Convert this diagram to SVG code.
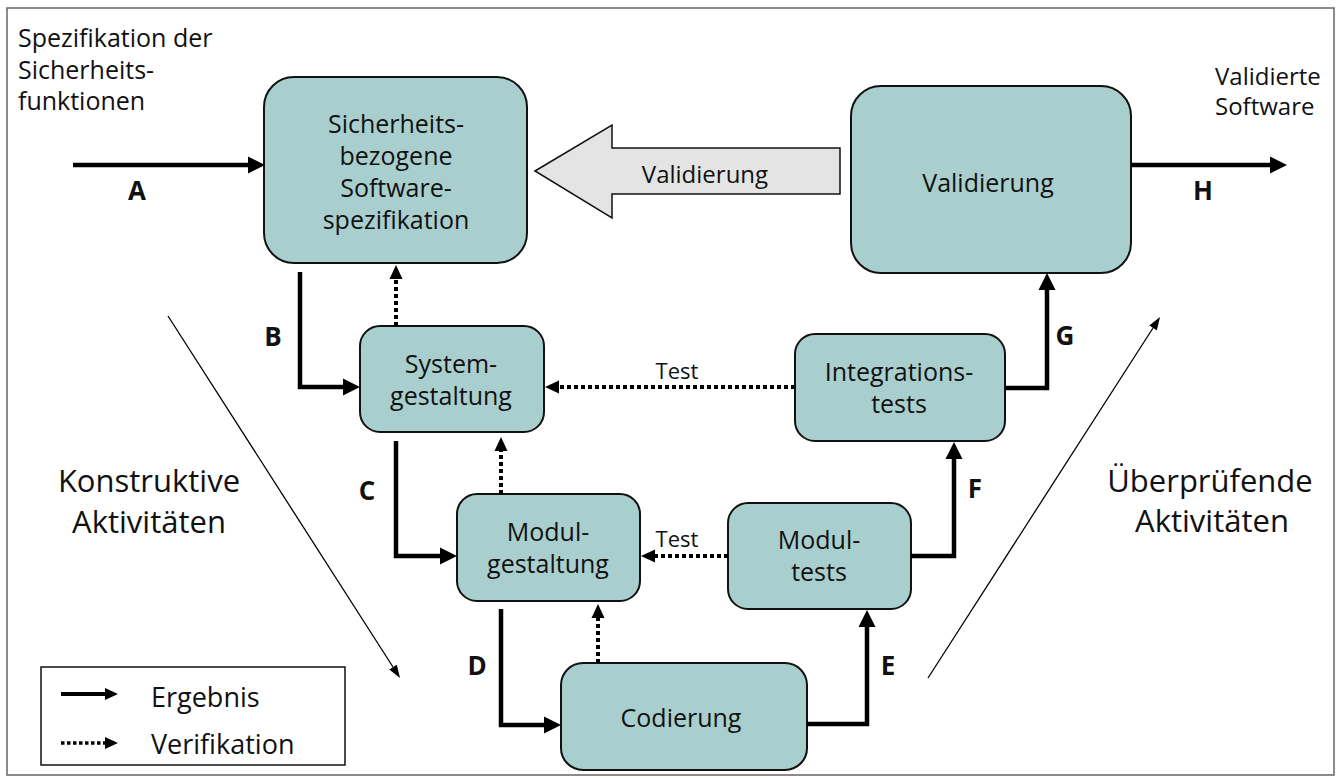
<svg xmlns="http://www.w3.org/2000/svg" width="1341" height="778" viewBox="0 0 1341 778">
  <defs>
    <style>
      .txt { font-family: "Open Sans", "Liberation Sans", sans-serif; fill: #111; }
      .node rect { fill: #A8CFCE; stroke: #111; stroke-width: 2; }
      .node text { font-size: 25px; text-anchor: middle; }
      .lbl { font-family: "Open Sans", "Liberation Sans", sans-serif; font-weight: bold; font-size: 26px; text-anchor: middle; fill: #111; }
      .solid { fill: none; stroke: #000; stroke-width: 4.5; marker-end: url(#head); }
      .dotted { fill: none; stroke: #000; stroke-width: 4; stroke-dasharray: 4 3; marker-end: url(#headDot); }
      .thin { fill: none; stroke: #000; stroke-width: 1.3; marker-end: url(#headThin); }
    </style>
    <marker id="head" markerUnits="userSpaceOnUse" markerWidth="18" markerHeight="18" viewBox="0 -9 18 18" refX="0" refY="0" orient="auto">
      <path d="M0,-8.5 L17,0 L0,8.5 Z" fill="#000"/>
    </marker>
    <marker id="headDot" markerUnits="userSpaceOnUse" markerWidth="14" markerHeight="14" viewBox="0 -7 14 14" refX="0" refY="0" orient="auto">
      <path d="M0,-6.5 L14,0 L0,6.5 Z" fill="#000"/>
    </marker>
    <marker id="headThin" markerUnits="userSpaceOnUse" markerWidth="14" markerHeight="10" viewBox="0 -5 14 10" refX="0" refY="0" orient="auto">
      <path d="M0,-4.5 L13,0 L0,4.5 Z" fill="#000"/>
    </marker>
    <marker id="headLegend" markerUnits="userSpaceOnUse" markerWidth="14" markerHeight="14" viewBox="0 -7 14 14" refX="0" refY="0" orient="auto">
      <path d="M0,-6 L13,0 L0,6 Z" fill="#000"/>
    </marker>
  </defs>

  <!-- outer frame -->
  <rect x="7" y="8" width="1327" height="767" fill="#fff" stroke="#666" stroke-width="1.5"/>

  <!-- side notes -->
  <g id="notes" class="txt">
    <text x="18" y="47" font-size="25">Spezifikation der</text>
    <text x="18" y="79" font-size="25">Sicherheits-</text>
    <text x="18" y="110" font-size="25">funktionen</text>
    <text x="1215" y="85" font-size="24">Validierte</text>
    <text x="1215" y="115" font-size="24">Software</text>
    <text x="149" y="492" font-size="31" text-anchor="middle">Konstruktive</text>
    <text x="149" y="533" font-size="31" text-anchor="middle">Aktivitäten</text>
    <text x="1210" y="492" font-size="31" text-anchor="middle">Überprüfende</text>
    <text x="1212" y="532" font-size="31" text-anchor="middle">Aktivitäten</text>
  </g>

  <!-- nodes -->
  <g id="spec" class="node txt">
    <rect x="264" y="77" width="263" height="186" rx="30"/>
    <text x="396" y="133">Sicherheits-</text>
    <text x="396" y="165">bezogene</text>
    <text x="396" y="197">Software-</text>
    <text x="396" y="229">spezifikation</text>
  </g>

  <g id="validation" class="node txt">
    <rect x="851" y="86" width="280" height="187" rx="30"/>
    <text x="988" y="192">Validierung</text>
  </g>

  <g id="system-design" class="node txt">
    <rect x="360" y="326" width="184" height="106" rx="20"/>
    <text x="451" y="373">System-</text>
    <text x="451" y="405">gestaltung</text>
  </g>

  <g id="integration-tests" class="node txt">
    <rect x="795" y="334" width="210" height="107" rx="20"/>
    <text x="899" y="381">Integrations-</text>
    <text x="899" y="413">tests</text>
  </g>

  <g id="module-design" class="node txt">
    <rect x="457" y="494" width="183" height="107" rx="20"/>
    <text x="548" y="541">Modul-</text>
    <text x="548" y="573">gestaltung</text>
  </g>

  <g id="module-tests" class="node txt">
    <rect x="728" y="503" width="183" height="106" rx="20"/>
    <text x="819" y="549">Modul-</text>
    <text x="819" y="581">tests</text>
  </g>

  <g id="coding" class="node txt">
    <rect x="561" y="663" width="246" height="107" rx="22"/>
    <text x="681" y="727">Codierung</text>
  </g>

  <!-- validation feedback block arrow -->
  <g id="validation-arrow">
    <polygon points="535,171 612,125 612,148 840,148 840,194 612,194 612,218" fill="#E4E4E4" stroke="#111" stroke-width="1.5" stroke-linejoin="miter"/>
    <text class="txt" x="705" y="183" font-size="24" text-anchor="middle">Validierung</text>
  </g>

  <!-- connectors -->
  <g id="connectors">
    <!-- results -->
    <path class="solid" d="M73,165 H248"/>
    <path class="solid" d="M300,272 V387 H343"/>
    <path class="solid" d="M396,441 V556 H440"/>
    <path class="solid" d="M501,609 V725 H544"/>
    <path class="solid" d="M807,724 H867 V627"/>
    <path class="solid" d="M911,556 H954 V459"/>
    <path class="solid" d="M1005,388 H1047 V290"/>
    <path class="solid" d="M1131,165 H1270"/>

    <!-- verification -->
    <path class="dotted" d="M396,326 V279"/>
    <path class="dotted" d="M501,494 V451"/>
    <path class="dotted" d="M598,663 V618"/>
    <path class="dotted" d="M795,387 H559"/>
    <path class="dotted" d="M728,556 H655"/>

    <!-- phase direction -->
    <path class="thin" d="M168,316 L393,667"/>
    <path class="thin" d="M928,678 L1153,328"/>

    <!-- connector labels -->
    <text class="lbl" x="137" y="200">A</text>
    <text class="lbl" x="273" y="346">B</text>
    <text class="lbl" x="367" y="500">C</text>
    <text class="lbl" x="477" y="675">D</text>
    <text class="lbl" x="888" y="675">E</text>
    <text class="lbl" x="975" y="498">F</text>
    <text class="lbl" x="1065" y="345">G</text>
    <text class="lbl" x="1203" y="200">H</text>
    <text class="txt" x="677" y="379" font-size="22" text-anchor="middle">Test</text>
    <text class="txt" x="677" y="547" font-size="22" text-anchor="middle">Test</text>
  </g>

  <!-- legend -->
  <g id="legend">
    <rect x="41" y="667" width="304" height="98" fill="#fff" stroke="#111" stroke-width="1.5"/>
    <path d="M61,694 H105" fill="none" stroke="#000" stroke-width="4" marker-end="url(#headLegend)"/>
    <path d="M61,743 H105" fill="none" stroke="#000" stroke-width="3.5" stroke-dasharray="3.5 2.5" marker-end="url(#headLegend)"/>
    <text class="txt" x="151" y="707" font-size="27">Ergebnis</text>
    <text class="txt" x="151" y="754" font-size="27">Verifikation</text>
  </g>
</svg>
